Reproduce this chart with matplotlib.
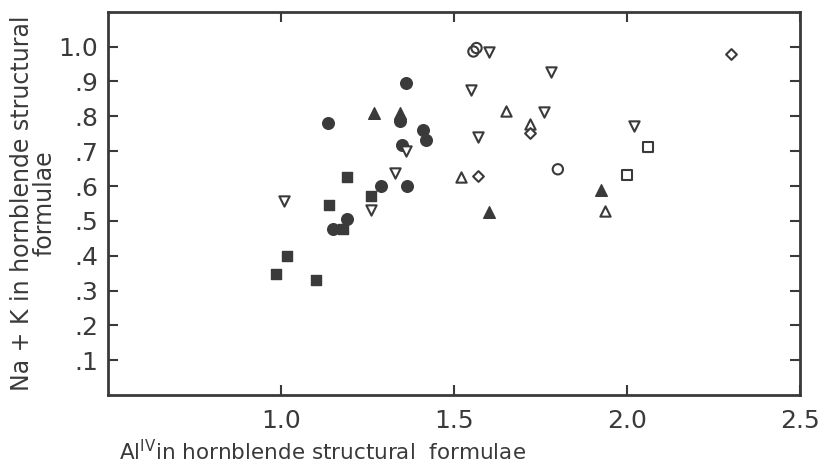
import matplotlib
matplotlib.use("Agg")
import matplotlib.pyplot as plt

### AlIV vs Na+K values, grouped by marker symbol
filled_circle_x = [1.36, 1.345, 1.135, 1.41, 1.42, 1.35, 1.29, 1.365, 1.19, 1.15]
filled_circle_y = [0.897, 0.787, 0.78, 0.76, 0.733, 0.718, 0.60, 0.60, 0.505, 0.477]

filled_square_x = [1.19, 1.14, 1.26, 1.18, 1.017, 0.985, 1.10]
filled_square_y = [0.627, 0.546, 0.57, 0.477, 0.40, 0.348, 0.33]

filled_tri_x = [1.27, 1.345, 1.925, 1.60]
filled_tri_y = [0.81, 0.81, 0.589, 0.524]

open_down_x = [1.01, 1.36, 1.33, 1.26, 1.60, 1.78, 1.55, 1.76, 2.02, 1.57]
open_down_y = [0.558, 0.70, 0.638, 0.53, 0.986, 0.927, 0.876, 0.812, 0.771, 0.74]

open_up_x = [1.65, 1.72, 1.52, 1.935]
open_up_y = [0.814, 0.778, 0.625, 0.527]

open_diamond_x = [1.72, 1.57, 2.30]
open_diamond_y = [0.752, 0.63, 0.979]

open_circle_x = [1.556, 1.565, 1.80]
open_circle_y = [0.986, 0.996, 0.648]

open_square_x = [2.0, 2.06]
open_square_y = [0.632, 0.712]

x_ticks = [1.0, 1.5, 2.0, 2.5]
x_tick_labels = ["1.0", "1.5", "2.0", "2.5"]
y_ticks = [0.1, 0.2, 0.3, 0.4, 0.5, 0.6, 0.7, 0.8, 0.9, 1.0]
y_tick_labels = [".1", ".2", ".3", ".4", ".5", ".6", ".7", ".8", ".9", "1.0"]

ink = "#3a3a3a"
plt.rcParams['font.family'] = ['DejaVu Sans']

fig = plt.figure(figsize=(8.24, 4.72), dpi=100)
ax = fig.add_axes([0.131, 0.163, 0.840, 0.812])

### filled symbols
ax.scatter(filled_circle_x, filled_circle_y, marker='o', s=70, color=ink, zorder=3)
ax.scatter(filled_square_x, filled_square_y, marker='s', s=60, color=ink, zorder=3)
ax.scatter(filled_tri_x, filled_tri_y, marker='^', s=70, color=ink, zorder=3)

### open symbols
ax.scatter(open_down_x, open_down_y, marker='v', s=55, facecolors='white', edgecolors=ink, linewidths=1.5, zorder=3)
ax.scatter(open_up_x, open_up_y, marker='^', s=55, facecolors='white', edgecolors=ink, linewidths=1.5, zorder=3)
ax.scatter(open_diamond_x, open_diamond_y, marker='D', s=30, facecolors='white', edgecolors=ink, linewidths=1.5, zorder=3)
ax.scatter(open_circle_x, open_circle_y, marker='o', s=55, facecolors='none', edgecolors=ink, linewidths=1.5, zorder=3)
ax.scatter(open_square_x, open_square_y, marker='s', s=55, facecolors='white', edgecolors=ink, linewidths=1.5, zorder=3)

ax.set_xlim(0.5, 2.5)
ax.set_ylim(0, 1.1)

ax.set_xticks(x_ticks)
ax.set_xticklabels(x_tick_labels, fontsize=18, color=ink)
ax.set_yticks(y_ticks)
ax.set_yticklabels(y_tick_labels, fontsize=18, color=ink)
ax.tick_params(direction='in', length=7, width=1.5, color=ink, top=True, right=True)
ax.tick_params(axis='x', pad=10)
ax.tick_params(axis='y', pad=7)

for sp in ax.spines.values():
    sp.set_linewidth(2)
    sp.set_color(ink)

ax.set_xlabel("Al$^{\\rm IV}$in hornblende structural  formulae", fontsize=15.5, color=ink)
ax.xaxis.set_label_coords(0.31, -0.115)
ax.set_ylabel("Na + K in hornblende structural\nformulae", fontsize=17, color=ink, linespacing=0.9)
ax.yaxis.set_label_coords(-0.075, 0.5)

plt.savefig("out.png", dpi=100, facecolor='white')
